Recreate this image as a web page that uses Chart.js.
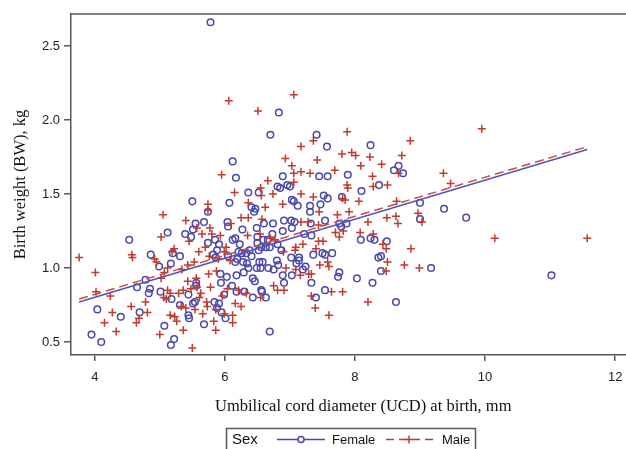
<!DOCTYPE html>
<html>
<head>
<meta charset="utf-8">
<script src="https://cdn.jsdelivr.net/npm/chart.js@4.4.1/dist/chart.umd.min.js"></script>
<style>
  html, body { margin: 0; padding: 0; background: #fff; overflow: hidden; width: 626px; height: 449px; }
  canvas { display: block; }
</style>
</head>
<body>
<canvas id="bwChart" width="661" height="449"></canvas>
<script>
// [UCD mm, BW kg]
const female = [
  [5.78,2.66],[6.83,2.05],[6.70,1.90],[7.41,1.90],[7.57,1.82],[8.24,1.83],[6.12,1.72],[6.17,1.61],
  [6.89,1.62],[7.45,1.62],[7.58,1.62],[7.89,1.63],[8.60,1.66],[8.67,1.69],[8.74,1.64],[8.37,1.56],
  [8.10,1.52],[6.81,1.55],[6.85,1.54],[6.96,1.56],[7.00,1.55],[6.36,1.51],[6.52,1.51],[5.50,1.45],
  [6.07,1.44],[7.03,1.46],[7.06,1.45],[7.52,1.49],[7.58,1.47],[7.80,1.48],[7.47,1.43],[7.31,1.42],
  [7.12,1.42],[6.41,1.41],[6.47,1.40],[9.00,1.44],[9.37,1.40],[9.71,1.34],[9.00,1.33],[6.45,1.38],
  [5.74,1.38],[5.68,1.31],[6.04,1.31],[6.05,1.28],[5.55,1.30],[5.51,1.26],[5.39,1.23],[5.48,1.21],
  [5.12,1.24],[4.53,1.19],[6.27,1.26],[6.49,1.27],[6.60,1.30],[6.74,1.30],[6.91,1.32],[7.02,1.32],
  [7.07,1.31],[7.03,1.27],[6.73,1.23],[6.89,1.25],[7.31,1.38],[7.32,1.30],[7.54,1.32],[7.76,1.30],
  [7.87,1.30],[7.79,1.28],[7.22,1.23],[7.33,1.22],[8.09,1.19],[8.24,1.20],[8.30,1.19],[8.49,1.18],
  [6.12,1.19],[6.16,1.20],[6.50,1.21],[6.50,1.17],[6.59,1.19],[6.66,1.19],[6.69,1.14],[6.23,1.16],
  [5.85,1.19],[5.91,1.16],[5.74,1.17],[5.88,1.12],[5.82,1.09],[5.86,1.07],[6.05,1.08],[6.21,1.11],
  [6.26,1.10],[6.33,1.10],[6.38,1.12],[6.41,1.08],[6.19,1.06],[6.16,1.04],[6.52,1.12],[6.56,1.14],
  [6.63,1.14],[6.81,1.16],[6.87,1.12],[6.80,1.05],[6.53,1.04],[6.58,1.04],[6.49,1.00],[6.55,1.00],
  [6.67,1.00],[6.75,0.99],[6.82,1.02],[7.02,1.07],[7.14,1.07],[7.14,1.05],[7.24,1.01],[7.36,1.09],
  [7.50,1.10],[7.54,1.09],[7.65,1.10],[8.36,1.07],[8.40,1.08],[9.17,1.00],[8.40,0.98],[7.76,0.97],
  [7.74,0.94],[8.03,0.93],[8.27,0.90],[11.02,0.95],[8.63,0.77],[7.54,0.85],[7.40,0.80],[7.33,0.90],
  [7.03,0.95],[6.89,0.95],[6.91,0.90],[6.18,0.95],[6.03,0.94],[5.93,0.96],[6.43,0.93],[6.46,0.91],
  [6.56,0.85],[6.57,0.84],[6.43,0.80],[6.63,0.80],[6.30,0.84],[6.18,0.84],[6.11,0.88],[5.99,0.82],
  [5.94,0.90],[5.56,0.90],[5.56,0.88],[5.44,0.82],[5.54,0.77],[5.51,0.76],[5.84,0.77],[5.91,0.76],
  [5.88,0.73],[5.95,0.70],[6.01,0.66],[5.68,0.62],[5.44,0.68],[5.45,0.66],[6.69,0.57],[5.22,0.52],
  [5.17,0.48],[5.07,0.61],[5.31,0.75],[5.18,0.79],[5.01,0.84],[4.83,0.83],[4.85,0.86],[4.78,0.92],
  [4.65,0.87],[4.86,1.09],[4.99,1.01],[5.17,1.03],[5.20,1.10],[5.31,1.08],[4.69,0.70],[4.40,0.67],
  [4.04,0.72],[3.95,0.55],[4.10,0.50],[6.28,1.04],[6.34,1.03],[6.36,1.00],[6.29,0.97],[7.10,1.03],
  [7.20,0.99]
];

const male = [
  [7.06,2.17],[6.06,2.13],[6.51,2.06],[9.95,1.94],[7.88,1.92],[8.85,1.86],[7.36,1.86],[7.17,1.82],
  [6.93,1.74],[7.42,1.73],[7.80,1.77],[7.95,1.78],[8.01,1.76],[8.23,1.75],[8.72,1.76],[8.41,1.70],
  [8.09,1.69],[7.03,1.69],[7.06,1.64],[7.17,1.65],[7.31,1.64],[7.69,1.66],[5.95,1.63],[8.27,1.62],
  [8.67,1.64],[9.36,1.64],[7.06,1.58],[6.66,1.59],[6.55,1.54],[6.15,1.51],[6.56,1.49],[6.74,1.50],
  [7.17,1.50],[7.36,1.48],[7.88,1.56],[7.89,1.54],[8.28,1.55],[8.50,1.56],[9.47,1.57],[7.81,1.47],
  [7.85,1.46],[8.06,1.45],[8.64,1.45],[5.74,1.43],[5.74,1.39],[6.36,1.44],[6.62,1.41],[6.89,1.43],
  [7.45,1.38],[7.91,1.38],[7.73,1.36],[5.05,1.36],[5.40,1.32],[6.25,1.34],[6.57,1.33],[6.36,1.34],
  [8.20,1.31],[8.66,1.30],[8.49,1.34],[8.97,1.37],[9.03,1.31],[10.15,1.20],[11.57,1.20],[5.57,1.27],
  [5.77,1.27],[6.09,1.30],[5.93,1.22],[5.80,1.23],[5.65,1.23],[5.02,1.21],[5.70,1.14],[5.45,1.18],
  [6.35,1.22],[6.54,1.23],[6.70,1.20],[6.77,1.19],[7.17,1.31],[7.28,1.31],[7.44,1.29],[7.70,1.24],
  [7.82,1.25],[8.08,1.24],[8.28,1.23],[8.63,1.35],[8.43,1.16],[8.48,1.13],[8.86,1.13],[7.76,1.21],
  [7.44,1.18],[7.20,1.16],[7.09,1.14],[6.90,1.11],[7.08,1.12],[7.40,1.13],[7.51,1.18],[6.02,1.14],
  [5.99,1.11],[6.08,1.05],[5.90,1.06],[5.76,1.08],[5.60,1.11],[5.53,1.04],[5.43,1.02],[5.34,0.99],
  [4.57,1.09],[4.58,1.07],[4.92,1.06],[4.95,1.04],[3.76,1.07],[5.22,1.13],[5.19,1.11],[5.87,0.98],
  [5.75,0.96],[5.56,0.93],[5.43,0.91],[5.57,0.87],[5.48,0.86],[5.36,0.85],[5.29,0.83],[5.63,0.83],
  [5.78,0.87],[5.61,0.80],[5.72,0.77],[5.73,0.74],[5.66,0.69],[5.54,0.72],[5.40,0.73],[5.33,0.74],
  [5.23,0.67],[5.26,0.64],[5.16,0.68],[5.36,0.58],[5.50,0.46],[5.86,0.58],[5.83,0.64],[5.86,0.72],
  [5.99,0.69],[6.12,0.68],[6.12,0.63],[6.16,0.76],[6.25,0.74],[5.96,0.81],[6.04,0.86],[6.21,0.85],
  [6.33,0.83],[6.55,0.80],[6.75,0.88],[6.81,0.85],[6.91,0.85],[6.94,1.00],[7.09,0.99],[7.16,0.95],
  [7.29,0.96],[7.33,0.96],[7.33,0.81],[7.39,0.73],[7.60,0.68],[7.64,0.84],[7.81,0.84],[7.46,1.02],
  [7.58,1.04],[7.60,1.01],[8.48,0.98],[8.50,1.04],[8.76,1.02],[8.99,1.00],[8.20,0.77],[5.12,1.00],
  [5.07,0.97],[5.02,0.93],[5.12,0.85],[5.16,0.83],[5.06,0.80],[5.10,0.79],[4.78,0.77],[4.56,0.74],
  [4.64,0.63],[4.68,0.66],[4.15,0.63],[4.27,0.70],[4.24,0.81],[4.33,0.57],[4.02,0.84],[4.01,0.97],
  [5.00,0.55],[4.81,0.70]
];

// fitted line end points, as drawn
const femaleFit = [[3.76, 0.77], [11.57, 1.80]];
const maleFit = [[3.76, 0.79], [11.57, 1.82]];

const xTicks = [4, 6, 8, 10, 12];
const yTicks = [0.5, 1.0, 1.5, 2.0, 2.5];

const BLUE = "#4848ae";
const RED = "#c23a2e";
const AXIS = "#585858";
const toPts = arr => arr.map(p => ({ x: p[0], y: p[1] }));

const frame = {
  id: "frame",
  afterDraw(chart) {
    const { ctx, chartArea: a } = chart;
    ctx.save();
    ctx.strokeStyle = AXIS;
    ctx.lineWidth = 1.5;
    ctx.beginPath();
    ctx.moveTo(a.left, a.top);
    ctx.lineTo(a.right, a.top);
    ctx.stroke();

    // legend box
    ctx.strokeRect(226.5, 428.5, 249, 30);
    ctx.fillStyle = "#111";
    ctx.textBaseline = "middle";
    ctx.font = '15px "Liberation Sans", Arial, sans-serif';
    ctx.fillText("Sex", 232, 440);
    ctx.font = '13px "Liberation Sans", Arial, sans-serif';
    ctx.fillText("Female", 332, 440);
    ctx.fillText("Male", 442, 440);

    ctx.lineWidth = 1.5;
    ctx.strokeStyle = BLUE;
    ctx.beginPath();
    ctx.moveTo(277, 439.5); ctx.lineTo(325, 439.5);
    ctx.stroke();
    ctx.fillStyle = "#fff";
    ctx.beginPath();
    ctx.arc(301, 439.5, 3, 0, Math.PI * 2);
    ctx.fill(); ctx.stroke();

    ctx.strokeStyle = RED;
    ctx.setLineDash([8, 5]);
    ctx.beginPath();
    ctx.moveTo(386, 439.5); ctx.lineTo(433, 439.5);
    ctx.stroke();
    ctx.setLineDash([]);
    ctx.beginPath();
    ctx.moveTo(405, 439.5); ctx.lineTo(413, 439.5);
    ctx.moveTo(409, 435.5); ctx.lineTo(409, 443.5);
    ctx.stroke();
    ctx.restore();
  }
};

new Chart(document.getElementById("bwChart"), {
  type: "scatter",
  data: {
    datasets: [
      {
        label: "Female fit",
        type: "line",
        data: toPts(femaleFit),
        borderColor: "#5252c4",
        borderWidth: 1.5,
        pointRadius: 0,
        fill: false
      },
      {
        label: "Male fit",
        type: "line",
        data: toPts(maleFit),
        borderColor: "#c6503e",
        borderWidth: 1.5,
        borderDash: [9, 5],
        pointRadius: 0,
        fill: false
      },
      {
        label: "Male",
        data: toPts(male),
        pointStyle: "cross",
        pointRadius: 4,
        borderColor: RED,
        borderWidth: 1.5,
        backgroundColor: RED
      },
      {
        label: "Female",
        data: toPts(female),
        pointStyle: "circle",
        pointRadius: 3.3,
        borderColor: BLUE,
        borderWidth: 1.5,
        backgroundColor: "rgba(0,0,0,0)"
      }
    ]
  },
  options: {
    responsive: false,
    animation: false,
    devicePixelRatio: 1,
    layout: { padding: { top: 14, left: 0, right: 0, bottom: 0 } },
    plugins: { legend: { display: false }, tooltip: { enabled: false } },
    scales: {
      x: {
        type: "linear",
        min: 3.635,
        max: 12.62,
        afterFit: s => { s.height = 94; },
        afterBuildTicks: s => { s.ticks = xTicks.map(v => ({ value: v })); },
        border: { display: true, color: AXIS, width: 1.5 },
        grid: { drawOnChartArea: false, tickLength: 6, color: AXIS, lineWidth: 1.5 },
        ticks: {
          padding: 9,
          color: "#222",
          font: { family: '"Liberation Sans", Arial, sans-serif', size: 13 },
          callback: v => String(v),
          maxRotation: 0
        },
        title: {
          display: true,
          text: "Umbilical cord diameter (UCD) at birth, mm",
          color: "#111",
          font: { family: '"Liberation Serif", "Times New Roman", serif', size: 16.5 },
          padding: { top: 0, bottom: 32 }
        }
      },
      y: {
        type: "linear",
        min: 0.412,
        max: 2.716,
        afterFit: s => { s.width = 71; },
        afterBuildTicks: s => { s.ticks = yTicks.map(v => ({ value: v })); },
        border: { display: true, color: AXIS, width: 1.5 },
        grid: { drawOnChartArea: false, tickLength: 7, color: AXIS, lineWidth: 1.5 },
        ticks: {
          padding: 4,
          color: "#222",
          font: { family: '"Liberation Sans", Arial, sans-serif', size: 13 },
          callback: v => v.toFixed(1)
        },
        title: {
          display: true,
          text: "Birth weight (BW), kg",
          color: "#111",
          font: { family: '"Liberation Serif", "Times New Roman", serif', size: 16.5 },
          padding: { top: 11, bottom: 0 }
        }
      }
    }
  },
  plugins: [frame]
});
</script>
</body>
</html>
